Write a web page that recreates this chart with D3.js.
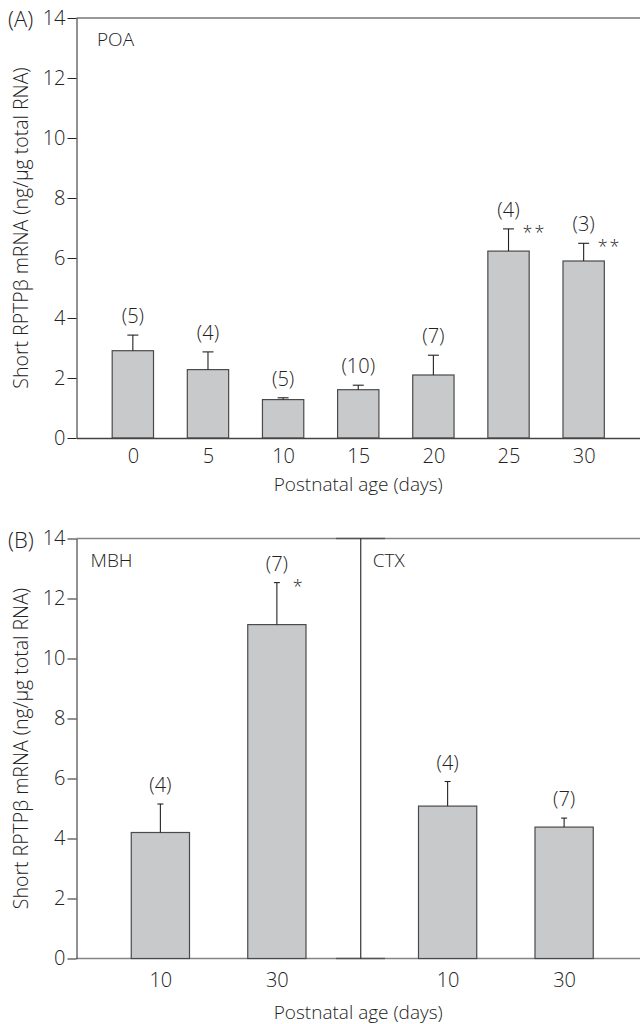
<!DOCTYPE html>
<html>
<head>
<meta charset="utf-8">
<script src="https://cdn.jsdelivr.net/npm/d3@7"></script>
<style>
  body { margin: 0; background: #fff; }
  svg text { font-family: "Open Sans", "Noto Sans", sans-serif; font-weight: 300; fill: #222; }
</style>
</head>
<body>
<div id="chart"></div>
<script>
// panel A: POA over postnatal age
const agesA = ['0', '5', '10', '15', '20', '25', '30'];
const meansA = [2.91, 2.28, 1.28, 1.61, 2.10, 6.23, 5.90];
const errA = [0.52, 0.59, 0.06, 0.15, 0.66, 0.74, 0.59];
const nA = [5, 4, 5, 10, 7, 4, 3];
const sigA = ['', '', '', '', '', '**', '**'];

// panel B: MBH and CTX at day 10 and 30
const regionsB = ['MBH', 'CTX'];
const agesB = ['10', '30'];
const meansB = [[4.20, 11.13], [5.08, 4.38]];
const errB = [[0.95, 1.40], [0.82, 0.30]];
const nB = [[4, 7], [4, 7]];
const sigB = [['', '*'], ['', '']];

const yTicks = [0, 2, 4, 6, 8, 10, 12, 14];
const yLabel = 'Short RPTPβ mRNA (ng/µg total RNA)';
const xLabel = 'Postnatal age (days)';

const W = 640, H = 1024;
const left = 76.5, right = 640;
const barFill = '#c8c9cb', barStroke = '#4a4a4a';

const svg = d3.select('#chart').append('svg')
  .attr('width', W).attr('height', H);

function yAxisPanel(g, y, top, bottom) {
  const ax = g.append('g')
    .attr('transform', `translate(${left},0)`)
    .call(d3.axisLeft(y).tickValues(yTicks).tickSize(9).tickSizeOuter(0).tickPadding(2));
  ax.select('.domain').attr('stroke', '#222');
  ax.selectAll('.tick line').attr('stroke', '#222');
  ax.selectAll('text').style('font-size', '20px').attr('fill', '#222');
  g.append('text')
    .attr('transform', `translate(28,${(top + bottom) / 2}) rotate(-90)`)
    .attr('text-anchor', 'middle')
    .style('font-size', '19.5px')
    .text(yLabel);
}

function drawBar(g, cx, bw, y, mean, err, n, sig, cap, starDx) {
  g.append('rect')
    .attr('x', cx - bw / 2).attr('y', y(mean))
    .attr('width', bw).attr('height', y(0) - y(mean))
    .attr('fill', barFill).attr('stroke', barStroke).attr('stroke-width', 1.2);
  g.append('line')
    .attr('x1', cx).attr('x2', cx)
    .attr('y1', y(mean)).attr('y2', y(mean + err))
    .attr('stroke', '#222').attr('stroke-width', 1.1);
  g.append('line')
    .attr('x1', cx - cap / 2).attr('x2', cx + cap / 2)
    .attr('y1', y(mean + err)).attr('y2', y(mean + err))
    .attr('stroke', '#222').attr('stroke-width', 1.1);
  g.append('text')
    .attr('x', cx).attr('y', y(mean + err) - 12)
    .attr('text-anchor', 'middle')
    .style('font-size', '20px')
    .text(`(${n})`);
  if (sig) {
    g.append('text')
      .attr('x', cx + starDx).attr('y', y(mean + err) + 10)
      .style('font-size', '18px')
      .style('letter-spacing', '2px')
      .text(sig);
  }
}

// ---- panel A ----
const topA = 18, botA = 438;
const yA = d3.scaleLinear().domain([0, 14]).range([botA, topA]);
const xA = d3.scalePoint().domain(agesA).range([left, right]).padding(0.75);
const gA = svg.append('g');

gA.append('line')
  .attr('x1', left).attr('x2', right).attr('y1', topA).attr('y2', topA)
  .attr('stroke', '#777').attr('stroke-width', 1.3);

agesA.forEach((a, i) => {
  drawBar(gA, xA(a), xA.step() * 0.55, yA, meansA[i], errA[i], nA[i], sigA[i], 11, 14);
});

const xAxA = gA.append('g')
  .attr('transform', `translate(0,${botA})`)
  .call(d3.axisBottom(xA).tickSize(0).tickPadding(11));
xAxA.select('.domain').attr('stroke', '#444').attr('stroke-width', 1.3);
xAxA.selectAll('text').style('font-size', '20px').attr('fill', '#222');

yAxisPanel(gA, yA, topA, botA);

gA.append('text').attr('x', 8).attr('y', 27).style('font-size', '22px').text('(A)');
gA.append('text').attr('x', 97).attr('y', 46).style('font-size', '19px').text('POA');
gA.append('text').attr('x', (left + right) / 2).attr('y', 491)
  .attr('text-anchor', 'middle').style('font-size', '19px').text(xLabel);

// ---- panel B ----
const topB = 538.5, botB = 958.5;
const yB = d3.scaleLinear().domain([0, 14]).range([botB, topB]);
const xGroup = d3.scaleBand().domain(regionsB).range([left, 645]);
const xInner = d3.scalePoint().domain(agesB).range([0, xGroup.bandwidth()]).padding(0.72);
const gB = svg.append('g');

regionsB.forEach((r, ri) => {
  const x0 = xGroup(r) + (ri === 0 ? 0 : 3);
  const seg = ri === 0 ? [left, 385] : [336, right];
  [topB, botB].forEach(yy => {
    gB.append('line')
      .attr('x1', seg[0]).attr('x2', seg[1]).attr('y1', yy).attr('y2', yy)
      .attr('stroke', '#333').attr('stroke-opacity', 0.6).attr('stroke-width', 1.3);
  });
  agesB.forEach((a, i) => {
    drawBar(gB, x0 + xInner(a), xInner.step() * 0.5, yB, meansB[ri][i], errB[ri][i],
      nB[ri][i], sigB[ri][i], 6, 16);
  });
  const ax = gB.append('g')
    .attr('transform', `translate(${x0},${botB})`)
    .call(d3.axisBottom(xInner).tickSize(0).tickPadding(14));
  ax.select('.domain').remove();
  ax.selectAll('text').style('font-size', '20px').attr('fill', '#222');
  gB.append('text')
    .attr('x', xGroup(r) + (ri === 0 ? 14 : 12)).attr('y', 567)
    .style('font-size', '19px').text(r);
});

// divider between the two regions
gB.append('line')
  .attr('x1', xGroup('CTX')).attr('x2', xGroup('CTX'))
  .attr('y1', topB).attr('y2', botB)
  .attr('stroke', '#222').attr('stroke-width', 1.1);

yAxisPanel(gB, yB, topB, botB);

gB.append('text').attr('x', 8).attr('y', 548).style('font-size', '22px').text('(B)');
gB.append('text').attr('x', (left + right) / 2).attr('y', 1019)
  .attr('text-anchor', 'middle').style('font-size', '19px').text(xLabel);
</script>
</body>
</html>
